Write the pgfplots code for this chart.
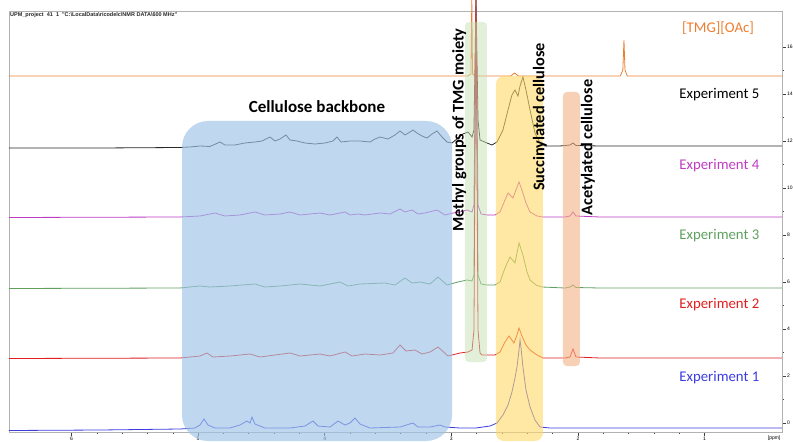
\documentclass[border=0pt]{standalone}
\usepackage{pgfplots}
\pgfplotsset{compat=1.18}
\usepackage{fontspec}
\setmainfont{Carlito}
\newfontfamily\arialfont{Liberation Sans}
\definecolor{cOrange}{RGB}{237,125,49}
\definecolor{cBlack}{RGB}{40,40,40}
\definecolor{cMag}{RGB}{190,60,195}
\definecolor{cGreen}{RGB}{95,160,95}
\definecolor{cRed}{RGB}{225,30,30}
\definecolor{cBlue}{RGB}{60,60,225}
\definecolor{bBlue}{RGB}{157,195,230}
\definecolor{bGreen}{RGB}{197,224,180}
\definecolor{bYellow}{RGB}{255,217,102}
\definecolor{bSalmon}{RGB}{244,177,131}
\begin{document}
\begin{tikzpicture}
\begin{axis}[
  scale only axis, width=773pt, height=421pt,
  x dir=reverse, xmin=0.388, xmax=6.494, ymin=9, ymax=430,
  clip=false,
  axis line style={gray!60, line width=0.6pt},
  xtick={1,2,3,4,5,6}, minor x tick num=4,
  ytick={18,65,112,159,206,253,300,347,394},
  yticklabels={0,2,4,6,8,10,12,14,16},
  minor y tick num=1,
  tick align=outside, xtick pos=bottom, ytick pos=right, yticklabel pos=right,
  major tick length=4pt, minor tick length=2pt,
  tick style={gray!50!black, line width=0.5pt},
  tick label style={font=\arialfont\fontsize{5}{5}\selectfont, inner sep=1pt},
  /pgf/number format/assume math mode=true,
  every axis plot/.append style={line width=0.8pt, sharp plot, mark=none},
]
% [TMG][OAc]
\addplot[cOrange] coordinates {(6.494,365) (2.870,365) (2.845,367) (2.838,441) (2.832,367) (2.810,365) (2.530,365) (2.500,368) (2.470,365) (1.665,365) (1.645,371) (1.636,401) (1.628,371) (1.610,365) (0.388,365)};
% Experiment 5
\addplot[cBlack] coordinates {(6.494,293) (5.775,293) (5.143,293.5) (5.064,294) (4.985,295) (4.906,294.5) (4.827,299) (4.788,296) (4.709,296) (4.630,298) (4.551,299) (4.495,300) (4.432,304) (4.393,300) (4.353,302) (4.306,306) (4.274,301) (4.219,300) (4.156,298) (4.077,297) (3.998,298) (3.934,300) (3.903,304) (3.871,299) (3.800,300) (3.721,300) (3.642,299) (3.603,302) (3.563,304) (3.500,302) (3.445,306) (3.405,310) (3.366,306) (3.326,309) (3.303,311) (3.271,308) (3.231,305) (3.192,303) (3.152,307) (3.113,310) (3.073,304) (3.034,299) (2.994,298) (2.947,303) (2.908,307) (2.868,309) (2.836,304) (2.821,311) (2.805,441) (2.789,321) (2.773,301) (2.718,298) (2.679,296) (2.639,299) (2.592,311) (2.552,331) (2.521,346) (2.497,351) (2.473,345) (2.457,355) (2.434,364) (2.410,351) (2.378,331) (2.339,308) (2.299,298) (2.260,295) (2.141,295) (2.062,296) (2.039,298) (2.015,295.5) (1.825,295) (1.036,295) (0.388,295)};
% Experiment 4
\addplot[cMag] coordinates {(6.494,223.5) (5.143,224) (4.985,225) (4.867,228) (4.788,225) (4.669,226) (4.551,229) (4.472,226) (4.353,227) (4.274,229) (4.195,226) (4.037,228) (3.958,226) (3.840,229) (3.800,226) (3.737,227) (3.682,226) (3.563,228) (3.484,227) (3.405,232) (3.366,229) (3.310,231) (3.263,227) (3.208,228) (3.113,231) (3.050,226) (2.987,228) (2.931,229) (2.876,231) (2.836,229) (2.821,236) (2.805,441) (2.789,236) (2.765,227) (2.718,226) (2.655,226) (2.615,229) (2.576,241) (2.552,248) (2.513,243) (2.489,251) (2.465,259) (2.442,251) (2.410,238) (2.378,229) (2.323,225) (2.276,224) (2.102,224) (2.062,225) (2.039,229) (2.015,225) (1.825,224) (0.388,224)};
% Experiment 3
\addplot[cGreen] coordinates {(6.494,152.5) (5.143,153) (4.985,155) (4.906,154) (4.748,155) (4.551,157) (4.472,154) (4.353,155) (4.195,157) (4.037,155) (3.879,159) (3.816,155) (3.721,157) (3.524,158) (3.445,156) (3.366,163) (3.310,158) (3.247,159) (3.168,157) (3.105,164) (3.034,156) (2.947,159) (2.876,161) (2.836,160) (2.821,166) (2.805,441) (2.789,166) (2.765,157) (2.718,156) (2.655,156) (2.615,159) (2.576,173) (2.536,184) (2.497,178) (2.465,198) (2.434,186) (2.402,169) (2.378,161) (2.331,156) (2.284,154) (2.102,153) (2.062,154) (2.039,156) (2.015,153.5) (1.825,153) (0.388,153)};
% Experiment 2
\addplot[cRed] coordinates {(6.494,82.5) (5.143,83) (4.985,85) (4.930,88) (4.882,84) (4.748,85) (4.590,87) (4.511,84) (4.393,86) (4.274,88) (4.195,85) (4.037,87) (3.958,85) (3.840,89) (3.784,85) (3.682,87) (3.563,86) (3.461,88) (3.405,96) (3.358,90) (3.287,91) (3.231,87) (3.168,89) (3.105,94) (3.026,85) (2.931,88) (2.868,89) (2.836,91) (2.821,111) (2.805,441) (2.789,111) (2.773,88) (2.758,86) (2.655,86) (2.615,89) (2.576,99) (2.544,105) (2.505,98) (2.481,106) (2.465,113) (2.442,105) (2.410,96) (2.378,91) (2.323,86) (2.276,83) (2.102,83) (2.062,84) (2.039,92) (2.015,84) (1.825,83) (0.388,83)};
% Experiment 1
\addplot[cBlue] coordinates {(6.494,10.5) (5.775,11) (5.143,12) (5.025,13) (4.985,16) (4.953,22) (4.922,16) (4.867,13) (4.748,13) (4.669,16) (4.614,20) (4.590,18) (4.574,24) (4.551,17) (4.472,13) (4.274,13) (4.156,15) (4.092,20) (4.053,15) (3.958,14) (3.895,20) (3.840,16) (3.800,18) (3.761,23) (3.721,17) (3.642,13) (3.405,14) (3.303,18) (3.263,14) (3.168,14) (3.089,16) (3.050,14) (2.931,13) (2.805,13) (2.694,15) (2.639,18) (2.592,26) (2.552,36) (2.521,49) (2.497,63) (2.481,74) (2.465,91) (2.457,101) (2.449,93) (2.434,74) (2.410,51) (2.378,34) (2.339,21) (2.299,14) (2.220,13) (1.825,13) (0.388,13)};
% highlight boxes
\fill[bBlue, opacity=0.65, rounded corners=26pt] (axis cs:5.127,0) rectangle (axis cs:2.994,320);
\fill[bGreen, opacity=0.5, rounded corners=4pt] (axis cs:2.892,79) rectangle (axis cs:2.718,419);
\fill[bYellow, opacity=0.6, rounded corners=8pt] (axis cs:2.647,0) rectangle (axis cs:2.276,365);
\fill[bSalmon, opacity=0.6, rounded corners=4pt] (axis cs:2.118,75) rectangle (axis cs:1.984,349);
% labels
\node[font=\bfseries\fontsize{17}{19}\selectfont] at (axis cs:4.061,334) {Cellulose backbone};
\node[rotate=90, font=\bfseries\fontsize{16.3}{18}\selectfont] at (axis cs:2.936,311) {Methyl groups of TMG moiety};
\node[rotate=90, font=\bfseries\fontsize{16.3}{18}\selectfont] at (axis cs:2.299,324) {Succinylated cellulose};
\node[rotate=90, font=\bfseries\fontsize{16.3}{18}\selectfont] at (axis cs:1.920,293.5) {Acetylated cellulose};
\node[font=\fontsize{14.8}{17}\selectfont, text=cOrange] at (axis cs:0.893,413) {[TMG][OAc]};
\node[font=\fontsize{14.8}{17}\selectfont, text=black] at (axis cs:0.882,346) {Experiment 5};
\node[font=\fontsize{14.8}{17}\selectfont, text=cMag] at (axis cs:0.882,275) {Experiment 4};
\node[font=\fontsize{14.8}{17}\selectfont, text=cGreen] at (axis cs:0.882,205) {Experiment 3};
\node[font=\fontsize{14.8}{17}\selectfont, text=cRed] at (axis cs:0.882,136) {Experiment 2};
\node[font=\fontsize{14.8}{17}\selectfont, text=cBlue] at (axis cs:0.882,63) {Experiment 1};
\node[anchor=west, inner sep=0pt, font=\arialfont\bfseries\fontsize{5.5}{6}\selectfont, text=gray!30!black] at (axis cs:6.486,426) {UPM\_project\ \ 41\ \ 1\ \ \symbol{34}C:\textbackslash LocalData\textbackslash ricodelc\textbackslash NMR DATA\textbackslash 600 MHz\symbol{34}};
\node[font=\arialfont\fontsize{5}{5}\selectfont, inner sep=0pt] at (axis cs:0.45,3) {[ppm]};
\coordinate (BL) at (axis cs:6.5648,0);
\coordinate (TR) at (axis cs:0.3009,441);
\end{axis}
\pgfresetboundingbox
\path[use as bounding box] (BL) rectangle (TR);
\end{tikzpicture}
\end{document}
